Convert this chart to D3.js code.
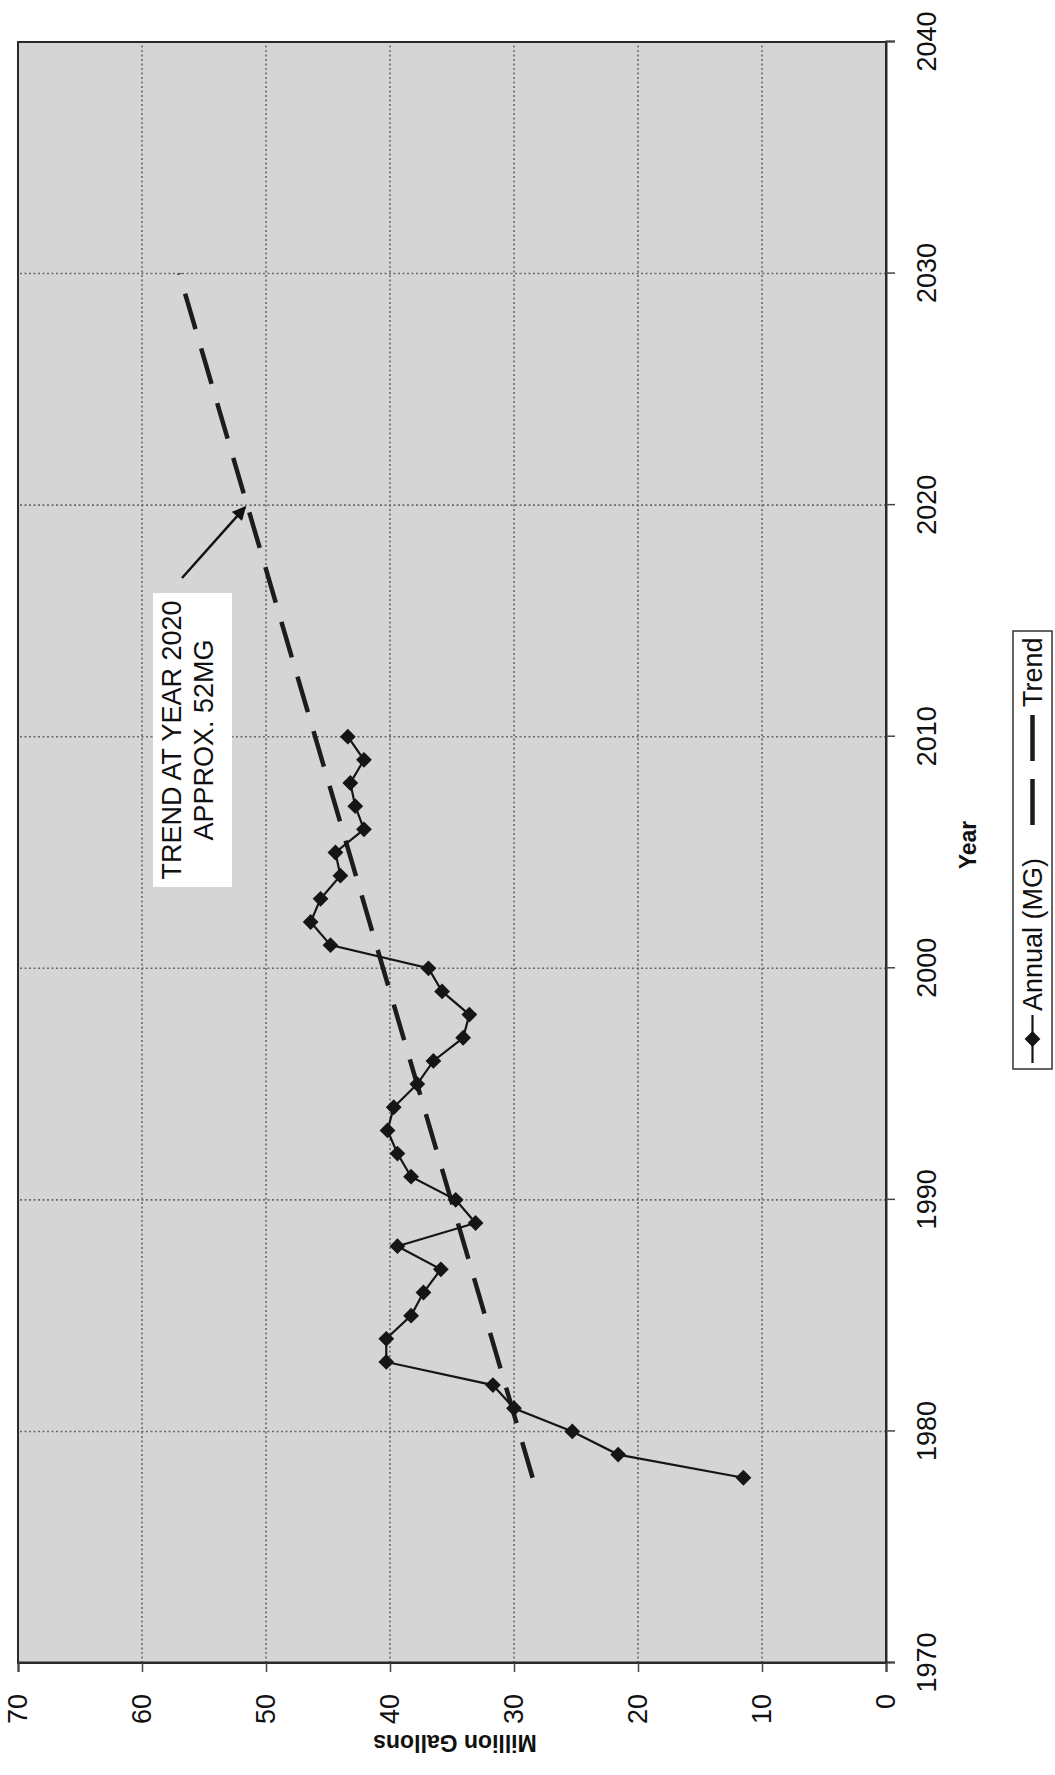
<!DOCTYPE html>
<html><head><meta charset="utf-8">
<script src="https://cdn.jsdelivr.net/npm/d3@7"></script>
<style>
body{margin:0;background:#fff}
text{font-family:"Liberation Sans",Arial,Helvetica,sans-serif}
</style></head>
<body>
<svg id="chart" width="1055" height="1775"></svg>
<script>
// ---- data ----
const years = [1978,1979,1980,1981,1982,1983,1984,1985,1986,1987,1988,1989,1990,1991,1992,1993,1994,1995,1996,1997,1998,1999,2000,2001,2002,2003,2004,2005,2006,2007,2008,2009,2010];
const annualValues = [11.5,21.6,25.3,30.0,31.7,40.3,40.3,38.3,37.3,35.9,39.4,33.1,34.7,38.3,39.4,40.2,39.7,37.8,36.5,34.1,33.6,35.8,36.9,44.8,46.4,45.6,44.0,44.4,42.1,42.8,43.2,42.1,43.4];
const trendYears = [1978, 2030];
const trendValues = [28.5, 57.0];
const yearTicks = [1970,1980,1990,2000,2010,2020,2030,2040];
const valueTicks = [0,10,20,30,40,50,60,70];
const seriesNames = ["Annual (MG)", "Trend"];
const annotationLines = ["TREND AT YEAR 2020", "APPROX. 52MG"];
const annotationYear = 2020;

// ---- layout (drawn in landscape, then rotated -90deg) ----
const OW = 1775, OH = 1055;
const M = {left:112, right:42, top:18, bottom:169};
const svg = d3.select("#chart");
const g = svg.append("g").attr("transform", `translate(0,${OW}) rotate(-90)`);

const x = d3.scaleLinear().domain([1970,2040]).range([M.left, OW - M.right]);
const y = d3.scaleLinear().domain([0,70]).range([OH - M.bottom, M.top]);

// plot background
g.append("rect").attr("x", x(1970)).attr("y", y(70))
  .attr("width", x(2040)-x(1970)).attr("height", y(0)-y(70))
  .attr("fill", "#d5d5d5");

// gridlines
const grid = g.append("g").attr("stroke","#6a6a6a").attr("stroke-width",1.6).attr("stroke-dasharray","2,2.5");
grid.selectAll("line.v").data(yearTicks.slice(1,-1)).join("line")
  .attr("x1", d=>x(d)).attr("x2", d=>x(d)).attr("y1", y(0)).attr("y2", y(70));
grid.selectAll("line.h").data(valueTicks.slice(1,-1)).join("line")
  .attr("x1", x(1970)).attr("x2", x(2040)).attr("y1", d=>y(d)).attr("y2", d=>y(d));

// border
g.append("rect").attr("x", x(1970)).attr("y", y(70))
  .attr("width", x(2040)-x(1970)).attr("height", y(0)-y(70))
  .attr("fill","none").attr("stroke","#2a2a2a").attr("stroke-width",2);

// axes
const xAxis = g.append("g").attr("transform", `translate(0,${y(0)})`)
  .call(d3.axisBottom(x).tickValues(yearTicks).tickFormat(d3.format("d")).tickSize(9).tickPadding(22));
const yAxis = g.append("g").attr("transform", `translate(${x(1970)},0)`)
  .call(d3.axisLeft(y).tickValues(valueTicks).tickSize(9).tickPadding(22));
[xAxis, yAxis].forEach(a => {
  a.select(".domain").attr("stroke","#2a2a2a").attr("stroke-width",2);
  a.selectAll(".tick line").attr("stroke","#444").attr("stroke-width",1.5);
  a.selectAll(".tick text").attr("font-size",27).attr("fill","#111")
    .style("font-family",'"Liberation Sans",Arial,sans-serif');
});

// axis titles
g.append("text").attr("transform", `translate(32,455) rotate(-90)`)
  .attr("text-anchor","middle").attr("dominant-baseline","central")
  .attr("font-size",23).attr("font-weight","bold").attr("fill","#111").text("Million Gallons");
g.append("text").attr("x", 930).attr("y", 968)
  .attr("text-anchor","middle").attr("dominant-baseline","central")
  .attr("font-size",23).attr("font-weight","bold").attr("fill","#111").text("Year");

// trend line
g.append("path").datum(trendYears.map((d,i)=>[d, trendValues[i]]))
  .attr("d", d3.line().x(d=>x(d[0])).y(d=>y(d[1])))
  .attr("fill","none").attr("stroke","#1c1c1c").attr("stroke-width",4.5)
  .attr("stroke-dasharray","37,20");

// annual line + markers
const annual = years.map((d,i)=>[d, annualValues[i]]);
g.append("path").datum(annual)
  .attr("d", d3.line().x(d=>x(d[0])).y(d=>y(d[1])))
  .attr("fill","none").attr("stroke","#151515").attr("stroke-width",2.2);
const diamond = d3.symbol().type(d3.symbolSquare).size(125);
g.selectAll("path.mk").data(annual).join("path").attr("class","mk")
  .attr("d", diamond)
  .attr("transform", d=>`translate(${x(d[0])},${y(d[1])}) rotate(45)`)
  .attr("fill","#151515");

// annotation box
const boxU0 = 888, boxU1 = 1182, boxV0 = 153, boxV1 = 232;
g.append("rect").attr("x", boxU0).attr("y", boxV0).attr("width", boxU1-boxU0).attr("height", boxV1-boxV0)
  .attr("fill","#fff");
g.selectAll("text.ann").data(annotationLines).join("text").attr("class","ann")
  .attr("x", (boxU0+boxU1)/2).attr("y", (d,i)=>181 + i*32)
  .attr("text-anchor","middle").attr("font-size",27).attr("fill","#111").text(d=>d);

// arrow
const defs = svg.append("defs");
defs.append("marker").attr("id","ah").attr("viewBox","0 0 10 10").attr("refX",9).attr("refY",5)
  .attr("markerWidth",6).attr("markerHeight",5.5).attr("orient","auto")
  .append("path").attr("d","M0,0 L10,5 L0,10 Z").attr("fill","#111");
const tAt = trendValues[0] + (annotationYear - trendYears[0])*(trendValues[1]-trendValues[0])/(trendYears[1]-trendYears[0]);
g.append("line").attr("x1", 1197).attr("y1", 182).attr("x2", x(annotationYear)-2).attr("y2", y(tAt)-2)
  .attr("stroke","#111").attr("stroke-width",2.5).attr("marker-end","url(#ah)");

// legend
const L = {u0:706, u1:1144, v0:1013, v1:1052};
const lv = (L.v0+L.v1)/2;
const lg = g.append("g");
lg.append("rect").attr("x",L.u0).attr("y",L.v0).attr("width",L.u1-L.u0).attr("height",L.v1-L.v0)
  .attr("fill","#fff").attr("stroke","#333").attr("stroke-width",1.5);
lg.append("line").attr("x1",712).attr("x2",760).attr("y1",lv).attr("y2",lv).attr("stroke","#151515").attr("stroke-width",2.2);
lg.append("path").attr("d",diamond).attr("transform",`translate(736,${lv}) rotate(45)`).attr("fill","#151515");
lg.append("text").attr("x",764).attr("y",lv).attr("dominant-baseline","central").attr("font-size",27).attr("fill","#111").text(seriesNames[0]);
lg.append("line").attr("x1",950).attr("x2",1060).attr("y1",lv).attr("y2",lv).attr("stroke","#1c1c1c").attr("stroke-width",4.5).attr("stroke-dasharray","46,18");
lg.append("text").attr("x",1068).attr("y",lv).attr("dominant-baseline","central").attr("font-size",27).attr("fill","#111").text(seriesNames[1]);
</script>
</body></html>
